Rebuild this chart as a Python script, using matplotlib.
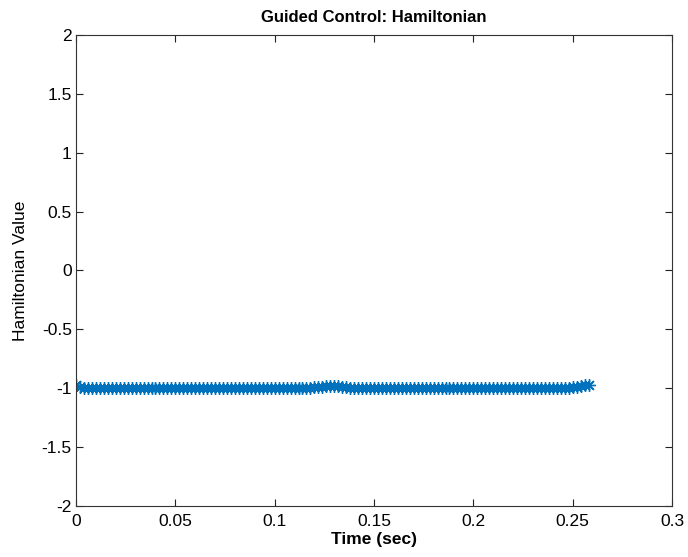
import matplotlib
matplotlib.use("Agg")
import matplotlib.pyplot as plt

plt.rcParams['font.family'] = ['Liberation Sans', 'DejaVu Sans']

time_sec = [0.000, 0.002, 0.004, 0.006, 0.008, 0.010, 0.012, 0.014, 0.016, 0.018,
            0.020, 0.022, 0.024, 0.026, 0.028, 0.030, 0.032, 0.034, 0.036, 0.038,
            0.040, 0.042, 0.044, 0.046, 0.048, 0.050, 0.052, 0.054, 0.056, 0.058,
            0.060, 0.062, 0.064, 0.066, 0.068, 0.070, 0.072, 0.074, 0.076, 0.078,
            0.080, 0.082, 0.084, 0.086, 0.088, 0.090, 0.092, 0.094, 0.096, 0.098,
            0.100, 0.102, 0.104, 0.106, 0.108, 0.110, 0.112, 0.114, 0.116, 0.118,
            0.120, 0.122, 0.124, 0.126, 0.128, 0.130, 0.132, 0.134, 0.136, 0.138,
            0.140, 0.142, 0.144, 0.146, 0.148, 0.150, 0.152, 0.154, 0.156, 0.158,
            0.160, 0.162, 0.164, 0.166, 0.168, 0.170, 0.172, 0.174, 0.176, 0.178,
            0.180, 0.182, 0.184, 0.186, 0.188, 0.190, 0.192, 0.194, 0.196, 0.198,
            0.200, 0.202, 0.204, 0.206, 0.208, 0.210, 0.212, 0.214, 0.216, 0.218,
            0.220, 0.222, 0.224, 0.226, 0.228, 0.230, 0.232, 0.234, 0.236, 0.238,
            0.240, 0.242, 0.244, 0.246, 0.248, 0.250, 0.252, 0.254, 0.256, 0.258]
hamiltonian = [-0.97, -0.99, -1.00, -1.00, -1.00, -1.00, -1.00, -1.00, -1.00, -1.00,
               -1.00, -1.00, -1.00, -1.00, -1.00, -1.00, -1.00, -1.00, -1.00, -1.00,
               -1.00, -1.00, -1.00, -1.00, -1.00, -1.00, -1.00, -1.00, -1.00, -1.00,
               -1.00, -1.00, -1.00, -1.00, -1.00, -1.00, -1.00, -1.00, -1.00, -1.00,
               -1.00, -1.00, -1.00, -1.00, -1.00, -1.00, -1.00, -1.00, -1.00, -1.00,
               -1.00, -1.00, -1.00, -1.00, -1.00, -1.00, -1.00, -1.00, -1.00, -1.00,
               -0.99, -0.99, -0.99, -0.98, -0.98, -0.98, -0.98, -0.99, -0.99, -1.00,
               -1.00, -1.00, -1.00, -1.00, -1.00, -1.00, -1.00, -1.00, -1.00, -1.00,
               -1.00, -1.00, -1.00, -1.00, -1.00, -1.00, -1.00, -1.00, -1.00, -1.00,
               -1.00, -1.00, -1.00, -1.00, -1.00, -1.00, -1.00, -1.00, -1.00, -1.00,
               -1.00, -1.00, -1.00, -1.00, -1.00, -1.00, -1.00, -1.00, -1.00, -1.00,
               -1.00, -1.00, -1.00, -1.00, -1.00, -1.00, -1.00, -1.00, -1.00, -1.00,
               -1.00, -1.00, -1.00, -1.00, -1.00, -0.99, -0.99, -0.98, -0.97, -0.97]

x_ticks = [0, 0.05, 0.1, 0.15, 0.2, 0.25, 0.3]
x_tick_labels = ['0', '0.05', '0.1', '0.15', '0.2', '0.25', '0.3']
y_ticks = [-2, -1.5, -1, -0.5, 0, 0.5, 1, 1.5, 2]
y_tick_labels = ['-2', '-1.5', '-1', '-0.5', '0', '0.5', '1', '1.5', '2']

fig = plt.figure(figsize=(6.88, 5.57), dpi=100)
ax = fig.add_axes([0.1105, 0.0916, 0.8662, 0.8456])

ax.plot(time_sec, hamiltonian, linestyle='-', color='#0072BD', linewidth=1.0,
        marker=(8, 2, 0), markersize=9, markeredgewidth=1.0)

ax.set_xlim(0, 0.3)
ax.set_ylim(-2, 2)
ax.set_xticks(x_ticks)
ax.set_xticklabels(x_tick_labels)
ax.set_yticks(y_ticks)
ax.set_yticklabels(y_tick_labels)
ax.tick_params(direction='in', top=True, right=True, labelsize=12.5, length=5,
               width=0.8, pad=3, colors='#222222', labelcolor='black')
ax.tick_params(axis='x', pad=6)
for s in ax.spines.values():
    s.set_linewidth(0.8)
    s.set_color('#333333')

ax.set_title('Guided Control: Hamiltonian', fontsize=12, fontweight='bold', pad=9)
ax.set_xlabel('Time (sec)', fontsize=12.5, fontweight='bold', labelpad=2)
ax.set_ylabel('Hamiltonian Value', fontsize=12.5, labelpad=10)

fig.savefig('out.png', dpi=100)
